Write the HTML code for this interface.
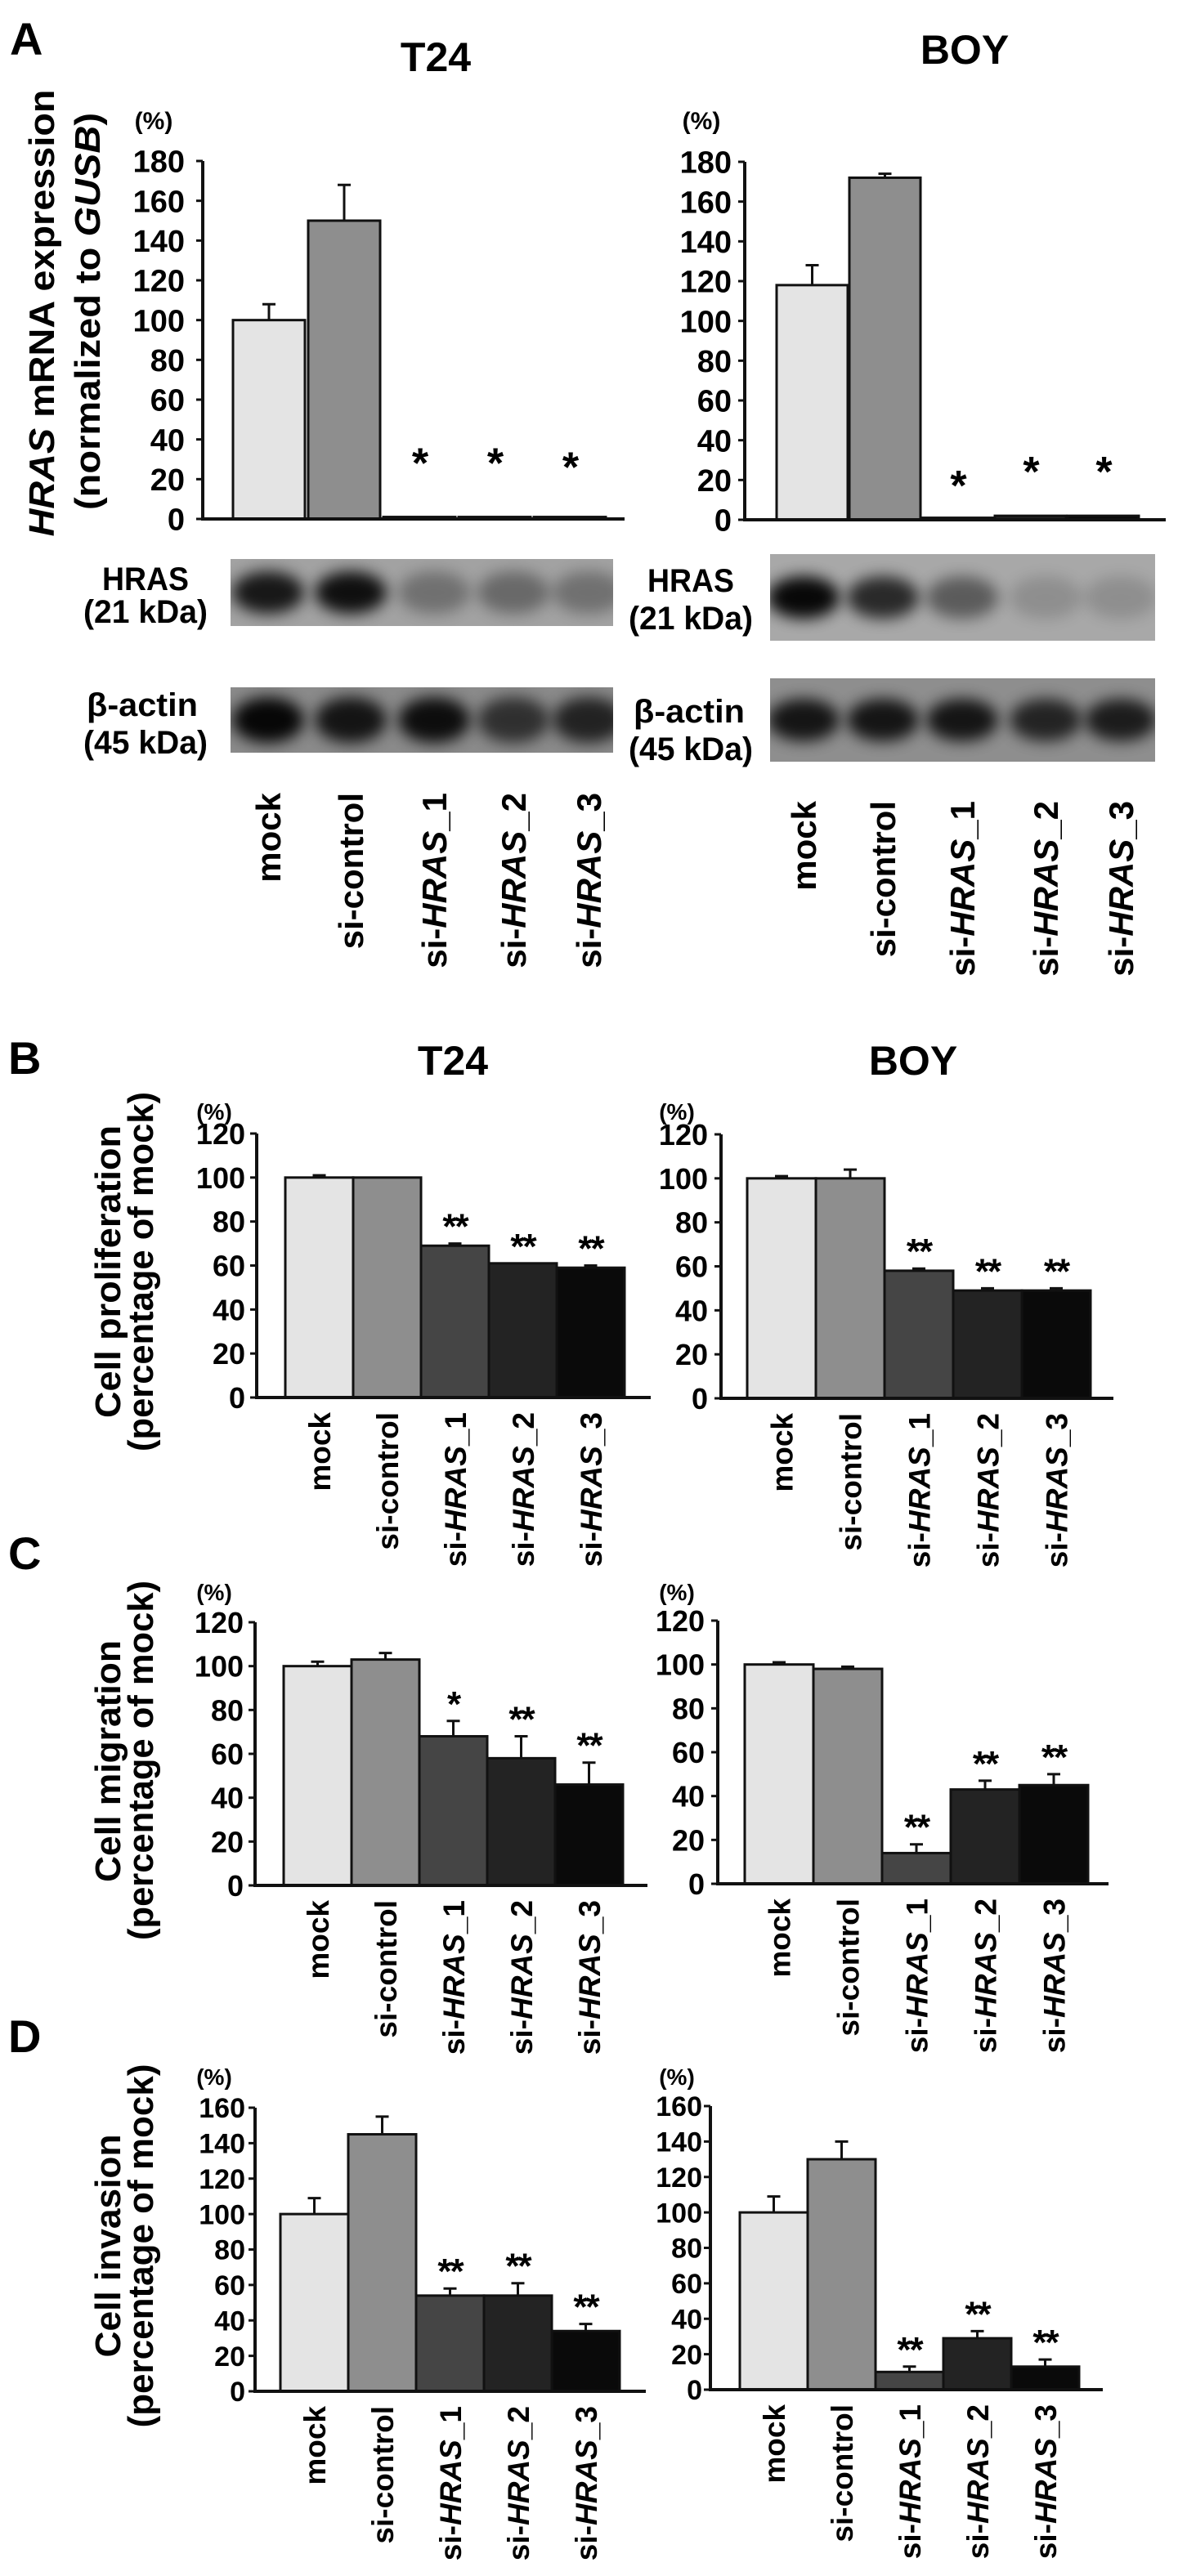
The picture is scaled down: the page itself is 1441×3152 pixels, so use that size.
<!DOCTYPE html>
<html><head><meta charset="utf-8">
<style>
html,body{margin:0;padding:0;background:#fff;}
svg{display:block;font-family:"Liberation Sans",Arial,sans-serif;font-weight:bold;}
</style></head>
<body>
<svg id="fig" width="1441" height="3152" viewBox="0 0 1441 3152" xmlns="http://www.w3.org/2000/svg">
<defs>
<filter id="blur" x="-50%" y="-50%" width="200%" height="200%"><feGaussianBlur stdDeviation="9"/></filter>
<clipPath id="c1"><rect x="282" y="684" width="468" height="82"/></clipPath>
<clipPath id="c2"><rect x="282" y="841" width="468" height="80"/></clipPath>
<clipPath id="c3"><rect x="942" y="678" width="471" height="106"/></clipPath>
<clipPath id="c4"><rect x="942" y="830" width="471" height="102"/></clipPath>
</defs>
<text x="12" y="67" font-size="56">A</text>
<text x="10" y="1314" font-size="56">B</text>
<text x="10" y="1920" font-size="56">C</text>
<text x="10" y="2511" font-size="56">D</text>
<text x="533" y="87" font-size="50" text-anchor="middle">T24</text>
<text x="1180" y="78" font-size="50" text-anchor="middle">BOY</text>
<text x="554" y="1315" font-size="50" text-anchor="middle">T24</text>
<text x="1117" y="1315" font-size="50" text-anchor="middle">BOY</text>

<g font-size="44">
<text transform="translate(66,383) rotate(-90)" text-anchor="middle" textLength="547" lengthAdjust="spacingAndGlyphs"><tspan font-style="italic">HRAS</tspan> mRNA expression</text>
<text transform="translate(122,381) rotate(-90)" text-anchor="middle" textLength="486" lengthAdjust="spacingAndGlyphs">(normalized to <tspan font-style="italic">GUSB</tspan>)</text>
</g>
<g font-size="44">
<text transform="translate(147,1556) rotate(-90)" text-anchor="middle" textLength="358" lengthAdjust="spacingAndGlyphs">Cell proliferation</text>
<text transform="translate(187,1556) rotate(-90)" text-anchor="middle" textLength="440" lengthAdjust="spacingAndGlyphs">(percentage of mock)</text>
</g>
<g font-size="44">
<text transform="translate(147,2155) rotate(-90)" text-anchor="middle" textLength="296" lengthAdjust="spacingAndGlyphs">Cell migration</text>
<text transform="translate(187,2154) rotate(-90)" text-anchor="middle" textLength="440" lengthAdjust="spacingAndGlyphs">(percentage of mock)</text>
</g>
<g font-size="44">
<text transform="translate(147,2748) rotate(-90)" text-anchor="middle" textLength="273" lengthAdjust="spacingAndGlyphs">Cell invasion</text>
<text transform="translate(187,2748) rotate(-90)" text-anchor="middle" textLength="445" lengthAdjust="spacingAndGlyphs">(percentage of mock)</text>
</g>

<g font-size="40" text-anchor="middle">
<text x="178" y="722" textLength="106" lengthAdjust="spacingAndGlyphs">HRAS</text>
<text x="178" y="762" textLength="152" lengthAdjust="spacingAndGlyphs">(21 kDa)</text>
<text x="174" y="876" textLength="136" lengthAdjust="spacingAndGlyphs">β-actin</text>
<text x="178" y="922" textLength="152" lengthAdjust="spacingAndGlyphs">(45 kDa)</text>
<text x="845" y="724" textLength="106" lengthAdjust="spacingAndGlyphs">HRAS</text>
<text x="845" y="770" textLength="152" lengthAdjust="spacingAndGlyphs">(21 kDa)</text>
<text x="843" y="884" textLength="136" lengthAdjust="spacingAndGlyphs">β-actin</text>
<text x="845" y="930" textLength="152" lengthAdjust="spacingAndGlyphs">(45 kDa)</text>
</g>
<g id="blots"></g>
<g id="charts"></g>
</svg>
<script>
const NS = "http://www.w3.org/2000/svg";
const categories = ["mock", "si-control", "si-HRAS_1", "si-HRAS_2", "si-HRAS_3"];
const barColors = ["#e4e4e4", "#8e8e8e", "#454545", "#232323", "#0a0a0a"];

const aTicks = [0, 20, 40, 60, 80, 100, 120, 140, 160, 180];
const bcTicks = [0, 20, 40, 60, 80, 100, 120];
const dTicks = [0, 20, 40, 60, 80, 100, 120, 140, 160];

const aT24Values = [100, 150, 1, 1, 1];
const aT24Errors = [8, 18, 0, 0, 0];
const aT24Stars = ["", "", "*", "*", "*"];
const aT24StarLevel = [0, 0, 29, 29, 27];
const aBoyValues = [118, 172, 1, 2, 2];
const aBoyErrors = [10, 2, 0, 0, 0];
const aBoyStars = ["", "", "*", "*", "*"];
const aBoyStarLevel = [0, 0, 18, 25, 25];

const bT24Values = [100, 100, 69, 61, 59];
const bT24Errors = [1, 0, 1, 0, 1];
const bT24Stars = ["", "", "**", "**", "**"];
const bBoyValues = [100, 100, 58, 49, 49];
const bBoyErrors = [1, 4, 1, 1, 1];
const bBoyStars = ["", "", "**", "**", "**"];

const cT24Values = [100, 103, 68, 58, 46];
const cT24Errors = [2, 3, 7, 10, 10];
const cT24Stars = ["", "", "*", "**", "**"];
const cBoyValues = [100, 98, 14, 43, 45];
const cBoyErrors = [1, 1, 4, 4, 5];
const cBoyStars = ["", "", "**", "**", "**"];

const dT24Values = [100, 145, 54, 54, 34];
const dT24Errors = [9, 10, 4, 7, 4];
const dT24Stars = ["", "", "**", "**", "**"];
const dBoyValues = [100, 130, 10, 29, 13];
const dBoyErrors = [9, 10, 3, 4, 4];
const dBoyStars = ["", "", "**", "**", "**"];

const hrasT24 = [0.85, 0.9, 0.3, 0.35, 0.3];
const actinT24 = [0.95, 0.85, 0.9, 0.65, 0.75];
const hrasBoy = [0.95, 0.75, 0.45, 0.15, 0.15];
const actinBoy = [0.85, 0.85, 0.85, 0.75, 0.8];

function mk(tag, attrs, parent) {
  const e = document.createElementNS(NS, tag);
  for (const k in attrs) e.setAttribute(k, attrs[k]);
  parent.appendChild(e);
  return e;
}
function catLabel(t, name) {
  if (name.indexOf("HRAS") >= 0) {
    const parts = name.split("HRAS");
    t.appendChild(document.createTextNode(parts[0]));
    const it = document.createElementNS(NS, "tspan");
    it.setAttribute("font-style", "italic");
    it.textContent = "HRAS";
    t.appendChild(it);
    t.appendChild(document.createTextNode(parts[1]));
  } else t.textContent = name;
}

function chart(id, L, values, errors, stars, ticks, starLevel) {
  const root = document.getElementById("charts");
  const g = mk("g", {}, root);
  
  
  const max = ticks[ticks.length - 1];
  const y = v => L.zero - (v / max) * (L.zero - L.top);
  const x = i => L.barStart + i * L.step;
  ticks.forEach(tv => {
    const tl = mk("line", {x1: L.axisX - 8, x2: L.axisX, y1: y(tv), y2: y(tv), stroke: "#111", "stroke-width": 3}, g);
    
    
    const tt = mk("text", {x: L.axisX - L.labelGap, y: y(tv) + L.tickFont * 0.36, "font-size": L.tickFont, "text-anchor": "end"}, g);
    
    
    tt.textContent = tv;
  });
  const pct = mk("text", {x: L.pctX, y: L.pctY, "font-size": L.pctFont, "text-anchor": "middle"}, g);
  
  
  pct.textContent = "(%)";
  values.forEach((v, i) => {
    const bx = x(i), top = y(v);
    const r = mk("rect", {x: bx, y: top, width: L.barW, height: L.zero - top, fill: barColors[i], stroke: "#111", "stroke-width": 3}, g);
    
    
    const cx = bx + L.barW / 2;
    if (errors[i] > 0) {
      const e = mk("path", {d: `M${cx},${top} V${y(v + errors[i])} M${cx - 8},${y(v + errors[i])} H${cx + 8}`, stroke: "#111", "stroke-width": 3, fill: "none"}, g);
      
      
    }
    if (stars[i]) {
      const fs = starLevel ? 52 : 44;
      const sy = starLevel ? y(starLevel[i]) + 20 : y(v + errors[i]) - 6;
      const s = mk("text", {x: cx, y: sy, "font-size": fs, "text-anchor": "middle", "letter-spacing": "-2"}, g);
      
      
      s.textContent = stars[i];
    }
    if (L.labels) {
      const t = mk("text", {transform: `translate(${cx + L.labelFont * 0.36},${L.zero + 18}) rotate(-90)`, "font-size": L.labelFont, "text-anchor": "end"}, g);
      
      
      catLabel(t, categories[i]);
    }
  });
  const ax = mk("path", {d: `M${L.axisX},${L.top} V${L.zero} H${L.axisEnd}`, stroke: "#111", "stroke-width": 4, fill: "none"}, g);
  
  
}

chart("chart-a-t24", {axisX: 248, zero: 635, top: 197, barStart: 285, barW: 88, step: 92, axisEnd: 764, tickFont: 38, labelGap: 22, pctX: 188, pctY: 158, pctFont: 30}, aT24Values, aT24Errors, aT24Stars, aTicks, aT24StarLevel);
chart("chart-a-boy", {axisX: 911, zero: 636, top: 198, barStart: 950, barW: 87, step: 89, axisEnd: 1426, tickFont: 38, labelGap: 16, pctX: 858, pctY: 158, pctFont: 30}, aBoyValues, aBoyErrors, aBoyStars, aTicks, aBoyStarLevel);

chart("chart-b-t24", {axisX: 314, zero: 1710, top: 1387, barStart: 349, barW: 83, step: 83, axisEnd: 796, tickFont: 36, labelGap: 14, pctX: 262, pctY: 1370, pctFont: 28, labels: true, labelFont: 37}, bT24Values, bT24Errors, bT24Stars, bcTicks);
chart("chart-b-boy", {axisX: 882, zero: 1711, top: 1388, barStart: 914, barW: 84, step: 84, axisEnd: 1362, tickFont: 36, labelGap: 16, pctX: 828, pctY: 1370, pctFont: 28, labels: true, labelFont: 37}, bBoyValues, bBoyErrors, bBoyStars, bcTicks);

chart("chart-c-t24", {axisX: 312, zero: 2307, top: 1985, barStart: 347, barW: 83, step: 83, axisEnd: 792, tickFont: 36, labelGap: 14, pctX: 262, pctY: 1958, pctFont: 28, labels: true, labelFont: 37}, cT24Values, cT24Errors, cT24Stars, bcTicks);
chart("chart-c-boy", {axisX: 878, zero: 2305, top: 1983, barStart: 911, barW: 84, step: 84, axisEnd: 1356, tickFont: 36, labelGap: 16, pctX: 828, pctY: 1958, pctFont: 28, labels: true, labelFont: 37}, cBoyValues, cBoyErrors, cBoyStars, bcTicks);

chart("chart-d-t24", {axisX: 312, zero: 2926, top: 2579, barStart: 343, barW: 83, step: 83, axisEnd: 790, tickFont: 34, labelGap: 12, pctX: 262, pctY: 2551, pctFont: 28, labels: true, labelFont: 37}, dT24Values, dT24Errors, dT24Stars, dTicks);
chart("chart-d-boy", {axisX: 869, zero: 2924, top: 2577, barStart: 905, barW: 83, step: 83, axisEnd: 1349, tickFont: 34, labelGap: 10, pctX: 828, pctY: 2551, pctFont: 28, labels: true, labelFont: 37}, dBoyValues, dBoyErrors, dBoyStars, dTicks);

function blot(name, box, clip, lanes, intens, bandH, bg) {
  const root = document.getElementById("blots");
  const g = mk("g", {"clip-path": `url(#${clip})`}, root);
  
  
  mk("rect", {x: box[0], y: box[1], width: box[2], height: box[3], fill: bg}, g);
  intens.forEach((a, i) => {
    const b = mk("ellipse", {cx: lanes[i], cy: box[1] + box[3] / 2, rx: 44, ry: bandH, fill: "#000", opacity: a, filter: "url(#blur)"}, g);
    
    
  });
}
const lanesT24 = [328, 429, 531, 628, 720];
const lanesBoy = [983, 1080, 1177, 1279, 1371];
blot("blot-hras-t24", [282, 684, 468, 82], "c1", lanesT24, hrasT24, 26, "#a2a2a2");
blot("blot-actin-t24", [282, 841, 468, 80], "c2", lanesT24, actinT24, 28, "#8a8a8a");
blot("blot-hras-boy", [942, 678, 471, 106], "c3", lanesBoy, hrasBoy, 26, "#a8a8a8");
blot("blot-actin-boy", [942, 830, 471, 102], "c4", lanesBoy, actinBoy, 26, "#8e8e8e");

const laneRoot = document.getElementById("blots");
[[lanesT24, 970], [lanesBoy, 980]].forEach(([lanes, top]) => {
  lanes.forEach((cx, i) => {
    const t = mk("text", {transform: `translate(${cx + 15},${top}) rotate(-90)`, "font-size": 42, "text-anchor": "end"}, laneRoot);
    
    
    catLabel(t, categories[i]);
  });
});
</script>
</body></html>
